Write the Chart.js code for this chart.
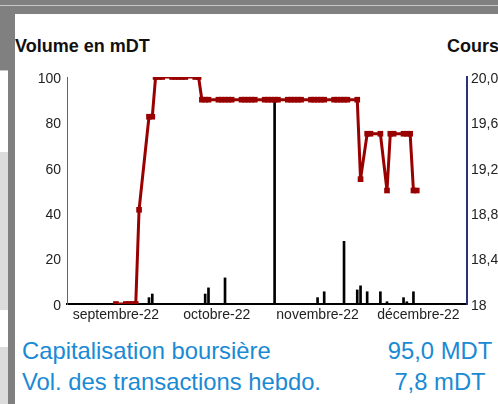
<!DOCTYPE html>
<html><head><meta charset="utf-8">
<script src="https://cdn.jsdelivr.net/npm/chart.js@4.4.1/dist/chart.umd.min.js"></script>
<style>
html,body{margin:0;padding:0;background:#fff;width:498px;height:404px;overflow:hidden;font-family:"Liberation Sans",Arial,sans-serif;}
.abs{position:absolute;}
.title{position:absolute;top:36px;font-weight:bold;font-size:18px;line-height:20px;color:#111;white-space:nowrap;}
.info{position:absolute;font-size:23.8px;line-height:26px;color:#1a8ad4;white-space:nowrap;}
</style></head><body>
<div class="abs" style="left:0;top:0;width:498px;height:14px;background:#808080"></div>
<div class="abs" style="left:0;top:5px;width:498px;height:1px;background:#c8c8c8"></div>
<div class="abs" style="left:0;top:14px;width:15px;height:56px;background:#808080"></div>
<div class="abs" style="left:8px;top:70px;width:7px;height:334px;background:#808080"></div>
<div class="abs" style="left:0;top:70px;width:8px;height:1px;background:#c8c8c8"></div>
<div class="abs" style="left:0;top:152px;width:8px;height:158px;background:#dcdcdc"></div>
<div class="abs" style="left:0;top:347px;width:8px;height:57px;background:#dcdcdc"></div>

<div class="title" style="left:15px">Volume en mDT</div>
<div class="title" style="left:447px">Cours</div>

<canvas id="c" width="498" height="270" class="abs" style="left:0;top:60px"></canvas>

<div class="info" style="left:22px;top:338px">Capitalisation boursière</div>
<div class="info" style="left:22px;top:369px">Vol. des transactions hebdo.</div>
<div class="info" style="left:340px;top:338px;width:200px;text-align:center">95,0 MDT</div>
<div class="info" style="left:340px;top:369px;width:200px;text-align:center">7,8 mDT</div>

<script>
// ---- data ----
const monthLabels = ['septembre-22', 'octobre-22', 'novembre-22', 'décembre-22'];
const monthStarts = ['2022-09-01', '2022-10-01', '2022-11-01', '2022-12-01', '2023-01-01'];

const volumeTicks = [0, 20, 40, 60, 80, 100];
const priceTicks = [18, 18.4, 18.8, 19.2, 19.6, 20];
const priceTickLabels = ['18', '18,4', '18,8', '19,2', '19,6', '20,0'];

const priceDates = [
  '2022-09-16','2022-09-19','2022-09-20','2022-09-21','2022-09-22','2022-09-23',
  '2022-09-26','2022-09-27','2022-09-28','2022-09-29','2022-09-30',
  '2022-10-03','2022-10-04','2022-10-05','2022-10-06','2022-10-07',
  '2022-10-10','2022-10-11','2022-10-12','2022-10-13','2022-10-14',
  '2022-10-17','2022-10-18','2022-10-19','2022-10-20','2022-10-21',
  '2022-10-24','2022-10-25','2022-10-26','2022-10-27','2022-10-28',
  '2022-10-31','2022-11-01','2022-11-02','2022-11-03','2022-11-04',
  '2022-11-07','2022-11-08','2022-11-09','2022-11-10','2022-11-11',
  '2022-11-14','2022-11-15','2022-11-16','2022-11-17','2022-11-18',
  '2022-11-21','2022-11-22','2022-11-23','2022-11-24','2022-11-25',
  '2022-11-28','2022-11-29',
  '2022-12-01','2022-12-02',
  '2022-12-05','2022-12-07','2022-12-08','2022-12-09',
  '2022-12-12','2022-12-13','2022-12-14','2022-12-15','2022-12-16'
];
const priceValues = [
  18, 18, 18, 18, 18, 18.83,
  19.65, 19.65, 20, 20, 20,
  20, 20, 20, 20, 20,
  20, 20, 19.8, 19.8, 19.8,
  19.8, 19.8, 19.8, 19.8, 19.8,
  19.8, 19.8, 19.8, 19.8, 19.8,
  19.8, 19.8, 19.8, 19.8, 19.8,
  19.8, 19.8, 19.8, 19.8, 19.8,
  19.8, 19.8, 19.8, 19.8, 19.8,
  19.8, 19.8, 19.8, 19.8, 19.8,
  19.8, 19.1,
  19.5, 19.5,
  19.5, 19.0, 19.5, 19.5,
  19.5, 19.5, 19.5, 19.0, 19.0
];

const volumeDates = [
  '2022-09-26','2022-09-27','2022-10-13','2022-10-14','2022-10-19',
  '2022-11-03','2022-11-16','2022-11-18','2022-11-24','2022-11-28',
  '2022-11-29','2022-12-01','2022-12-05','2022-12-07','2022-12-12',
  '2022-12-13','2022-12-15'
];
const volumeValues = [
  2.8, 4.4, 4.4, 7.1, 11.5,
  90, 2.8, 5.4, 27.6, 6.2,
  8.0, 5.4, 5.4, 1.0, 2.8,
  1.0, 5.4
];

// ---- helpers ----
const BASE = Date.parse('2022-09-01');
const dayOf = s => (Date.parse(s) - BASE) / 86400000;
const monthMids = monthLabels.map((_, i) => (dayOf(monthStarts[i]) + dayOf(monthStarts[i + 1])) / 2);

const pricePts = priceDates.map((d, i) => ({ x: dayOf(d), y: priceValues[i] }));
const volPts = volumeDates.map((d, i) => ({ x: dayOf(d), y: volumeValues[i] }));

const tickFont = { family: '"Liberation Sans", Arial, sans-serif', size: 14 };
const RED = '#990000';

new Chart(document.getElementById('c'), {
  type: 'bar',
  data: {
    datasets: [
      {
        type: 'line', label: 'Cours', data: pricePts, yAxisID: 'y1', xAxisID: 'x',
        borderColor: RED, backgroundColor: RED, borderWidth: 3, tension: 0,
        pointStyle: 'rect', pointRadius: 4, pointBorderWidth: 0,
        pointBackgroundColor: RED, order: 1
      },
      {
        type: 'bar', label: 'Volume', data: volPts, yAxisID: 'y', xAxisID: 'x',
        backgroundColor: '#000', barThickness: 2, order: 2
      }
    ]
  },
  options: {
    animation: false, responsive: false, events: [],
    plugins: { legend: { display: false }, tooltip: { enabled: false } },
    layout: { padding: { top: 17, left: 0, right: 0, bottom: 0 } },
    scales: {
      x: {
        type: 'linear', position: 'bottom', min: 0.2, max: 121.2, offset: false,
        grid: { display: false, drawTicks: false, tickLength: 0 },
        border: { display: true, color: '#000', width: 2 },
        ticks: {
          font: tickFont, color: '#222', padding: 3, autoSkip: false, maxRotation: 0,
          callback: (v, i) => monthLabels[i]
        },
        afterBuildTicks: s => { s.ticks = monthMids.map(v => ({ value: v })); },
        afterFit: s => { s.height = 26; }
      },
      y: {
        type: 'linear', position: 'left', min: 0, max: 100,
        grid: { display: false, drawTicks: false, tickLength: 0 },
        border: { display: true, color: '#56619e', width: 1 },
        ticks: { font: tickFont, color: '#222', padding: 6, labelOffset: 2 },
        afterBuildTicks: s => { s.ticks = volumeTicks.map(v => ({ value: v })); },
        afterFit: s => { s.width = 67; }
      },
      y1: {
        type: 'linear', position: 'right', min: 18, max: 20,
        grid: { display: false, drawTicks: false, tickLength: 0 },
        border: { display: true, color: '#2b3378', width: 2 },
        ticks: {
          font: tickFont, color: '#222', padding: 4, labelOffset: 2,
          callback: (v, i) => priceTickLabels[i]
        },
        afterBuildTicks: s => { s.ticks = priceTicks.map(v => ({ value: v })); },
        afterFit: s => { s.width = 31; }
      }
    }
  }
});
</script>
</body></html>
